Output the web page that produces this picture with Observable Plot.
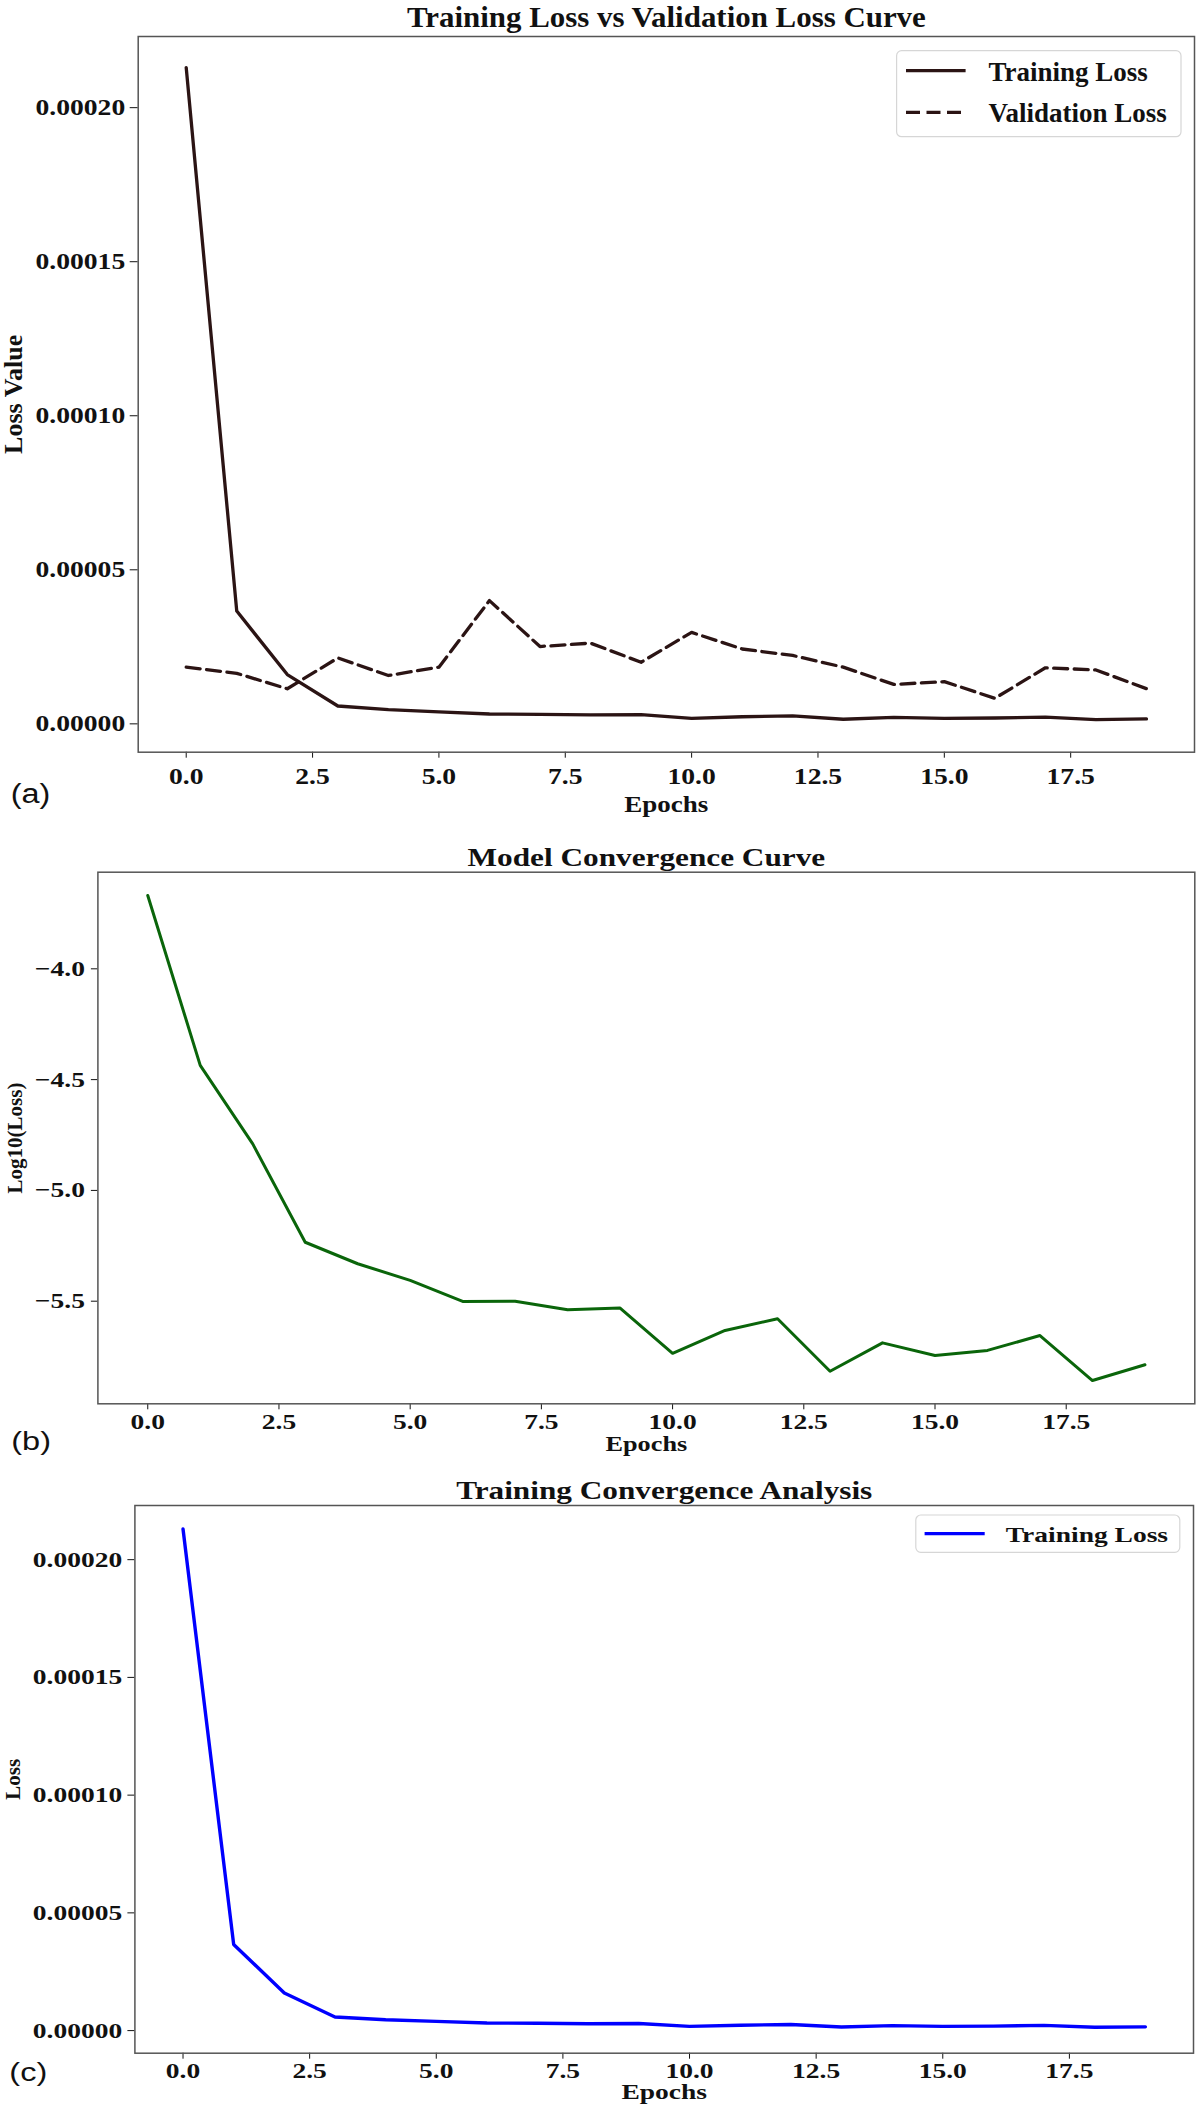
<!DOCTYPE html>
<html>
<head>
<meta charset="utf-8">
<script src="https://cdn.jsdelivr.net/npm/d3@7"></script>
<script src="https://cdn.jsdelivr.net/npm/@observablehq/plot@0.6"></script>
<style>
html, body { margin: 0; padding: 0; background: #fff; }
#root { width: 1200px; }
#root svg { display: block; }
</style>
</head>
<body>
<div id="root"></div>
<script>
// ---------------- data ----------------
const epochs = [0, 1, 2, 3, 4, 5, 6, 7, 8, 9, 10, 11, 12, 13, 14, 15, 16, 17, 18, 19];
const trainLoss = [0.000213, 0.0000366, 0.0000160, 0.0000058, 0.0000046, 0.0000039, 0.0000032, 0.0000031, 0.0000029, 0.0000030,
                   0.0000018, 0.0000023, 0.0000026, 0.0000015, 0.0000021, 0.0000018, 0.0000019, 0.0000022, 0.0000014, 0.0000016];
const valLoss = [0.0000184, 0.0000164, 0.0000114, 0.0000214, 0.0000157, 0.0000184, 0.0000400, 0.0000251, 0.0000262, 0.0000200,
                 0.0000297, 0.0000243, 0.0000222, 0.0000184, 0.0000128, 0.0000137, 0.0000083, 0.0000182, 0.0000175, 0.0000114];
const logLoss = [-3.669, -4.436, -4.79, -5.234, -5.331, -5.406, -5.501, -5.500, -5.539, -5.531,
                 -5.735, -5.632, -5.579, -5.816, -5.688, -5.745, -5.722, -5.655, -5.858, -5.787];

const xTicks = [0, 2.5, 5, 7.5, 10, 12.5, 15, 17.5];
const lossTicks = [0, 0.00005, 0.0001, 0.00015, 0.0002];
const logTicks = [-4.0, -4.5, -5.0, -5.5];

const titleA = "Training Loss vs Validation Loss Curve";
const titleB = "Model Convergence Curve";
const titleC = "Training Convergence Analysis";
const xLabel = "Epochs";
const yLabelA = "Loss Value";
const yLabelB = "Log10(Loss)";
const yLabelC = "Loss";
const legendA = ["Training Loss", "Validation Loss"];
const legendC = ["Training Loss"];
const tags = ["(a)", "(b)", "(c)"];

// ---------------- style ----------------
const serif = "'Liberation Serif', 'Times New Roman', Times, serif";
const sans = "'Liberation Sans', Arial, Helvetica, sans-serif";
const brown = "#2b1414";
const green = "#0a650a";
const blue = "#0000ff";
const dash = "14,6.5";

const rows = (vals) => epochs.map((e, i) => ({epoch: e, value: vals[i]}));

function stretchText(el, factor) {
  const len = el.getComputedTextLength();
  if (len > 0 && factor !== 1) {
    el.setAttribute("textLength", len * factor);
    el.setAttribute("lengthAdjust", "spacingAndGlyphs");
  }
}

function panel(cfg) {
  const svg = Plot.plot({
    width: 1200,
    height: cfg.height,
    marginTop: cfg.mt, marginBottom: cfg.mb, marginLeft: cfg.ml, marginRight: cfg.mr,
    style: {fontFamily: serif, fontWeight: "bold", fontSize: cfg.tickSize + "px", color: "#111", background: "#fff", overflow: "visible"},
    x: {domain: [-0.95, 19.95], ticks: xTicks, tickFormat: d3.format(".1f"), label: null, tickSize: 6, tickPadding: cfg.xPad},
    y: {domain: cfg.yDomain, ticks: cfg.yTicks, tickFormat: d3.format(cfg.yFmt), label: null, tickSize: cfg.ySize, tickPadding: cfg.yPad},
    marks: [
      ...cfg.lines,
      Plot.frame({stroke: "#555", strokeWidth: 1.5}),
      Plot.text([cfg.title], {frameAnchor: "top", dy: cfg.titleDy, fontSize: cfg.titleSize, textAnchor: "middle", lineAnchor: "middle", fill: "#111"}),
      Plot.text([xLabel], {frameAnchor: "bottom", dy: cfg.xLabelDy, fontSize: cfg.xLabelSize, textAnchor: "middle", lineAnchor: "middle", fill: "#111"}),
      Plot.text([cfg.yLabel], {frameAnchor: "left", dx: cfg.yLabelDx, rotate: -90, fontSize: cfg.yLabelSize, textAnchor: "middle", lineAnchor: "middle", fill: "#111"}),
      Plot.text([cfg.tag], {frameAnchor: "bottom-left", dx: cfg.tagDx, dy: cfg.tagDy, fontFamily: sans, fontWeight: "normal", fontSize: cfg.tagSize, textAnchor: "middle", lineAnchor: "middle", fill: "#111"})
    ]
  });
  document.getElementById("root").appendChild(svg);
  svg.querySelectorAll("text").forEach((t) => {
    const s = t.textContent;
    if (s === cfg.yLabel) return;
    if (s === cfg.title) stretchText(t, cfg.titleStretch);
    else stretchText(t, cfg.stretch);
  });
  return svg;
}

function addLegend(svg, cfg, items) {
  const fr = 1200 - cfg.mr, ft = cfg.mt;
  const L = cfg.legend;
  const x0 = fr - L.right - L.w, y0 = ft + L.top;
  const g = d3.select(svg).append("g").attr("text-anchor", "start");
  g.append("rect").attr("x", x0).attr("y", y0).attr("width", L.w).attr("height", L.h).attr("rx", 5)
    .attr("fill", "#fff").attr("fill-opacity", 0.85).attr("stroke", "#d6d6d6").attr("stroke-width", 1.2);
  items.forEach((it, i) => {
    const yy = y0 + L.first + i * L.step;
    g.append("line").attr("x1", x0 + L.lx1).attr("x2", x0 + L.lx2).attr("y1", yy).attr("y2", yy)
      .attr("stroke", it.stroke).attr("stroke-width", it.width).attr("stroke-dasharray", it.dash || null);
    const t = g.append("text").attr("x", x0 + L.tx).attr("y", yy).attr("dy", "0.37em")
      .attr("text-anchor", "start")
      .attr("font-family", serif).attr("font-weight", "bold").attr("font-size", L.font)
      .attr("fill", "#111").text(it.label);
    stretchText(t.node(), L.stretch);
  });
}

// ---------------- panel (a) ----------------
const cfgA = {
  height: 830, mt: 36, mb: 78.3, ml: 137.7, mr: 6,
  yDomain: [-0.0000092, 0.0002231], yTicks: lossTicks, yFmt: ".5f",
  tickSize: 23, xPad: 9.7, ySize: 8, yPad: 5, stretch: 1.2,
  title: titleA, titleSize: 30, titleDy: -19.1, titleStretch: 1.03,
  xLabelSize: 22.5, xLabelDy: 53,
  yLabel: yLabelA, yLabelSize: 26, yLabelDx: -124.7,
  tag: tags[0], tagSize: 27, tagDx: -107.7, tagDy: 42.3,
  lines: [
    Plot.line(rows(trainLoss), {x: "epoch", y: "value", stroke: brown, strokeWidth: 3.3}),
    Plot.line(rows(valLoss), {x: "epoch", y: "value", stroke: brown, strokeWidth: 3.3, strokeDasharray: dash})
  ],
  legend: {w: 284.4, h: 86, right: 13, top: 14.7, first: 20, step: 41.6, lx1: 9.4, lx2: 69, tx: 91.8, font: 27, stretch: 1}
};
const svgA = panel(cfgA);
addLegend(svgA, cfgA, [
  {label: legendA[0], stroke: brown, width: 3.3},
  {label: legendA[1], stroke: brown, width: 3.3, dash: dash}
]);

// ---------------- panel (b) ----------------
const cfgB = {
  height: 630, mt: 41.7, mb: 56.7, ml: 97.4, mr: 5.7,
  yDomain: [-5.963, -3.564], yTicks: logTicks, yFmt: ".1f",
  tickSize: 22, xPad: 3.6, ySize: 6.5, yPad: 6.5, stretch: 1.25,
  title: titleB, titleSize: 25, titleDy: -14.7, titleStretch: 1.25,
  xLabelSize: 21, xLabelDy: 40,
  yLabel: yLabelB, yLabelSize: 21, yLabelDx: -82.4,
  tag: tags[1], tagSize: 26, tagDx: -66.8, tagDy: 37.7,
  lines: [
    Plot.line(rows(logLoss), {x: "epoch", y: "value", stroke: green, strokeWidth: 3})
  ]
};
panel(cfgB);

// ---------------- panel (c) ----------------
const cfgC = {
  height: 654, mt: 45, mb: 61.3, ml: 134.4, mr: 7,
  yDomain: [-0.0000096, 0.000223], yTicks: lossTicks, yFmt: ".5f",
  tickSize: 22, xPad: 3.2, ySize: 7, yPad: 5.7, stretch: 1.25,
  title: titleC, titleSize: 25, titleDy: -15, titleStretch: 1.25,
  xLabelSize: 22, xLabelDy: 38.6,
  yLabel: yLabelC, yLabelSize: 21, yLabelDx: -121.9,
  tag: tags[2], tagSize: 26, tagDx: -106.6, tagDy: 19.8,
  lines: [
    Plot.line(rows(trainLoss), {x: "epoch", y: "value", stroke: blue, strokeWidth: 3.4})
  ],
  legend: {w: 264, h: 37.3, right: 13.2, top: 10, first: 18.65, step: 0, lx1: 8.8, lx2: 68.9, tx: 90, font: 22, stretch: 1.25}
};
const svgC = panel(cfgC);
addLegend(svgC, cfgC, [{label: legendC[0], stroke: blue, width: 3.4}]);
</script>
</body>
</html>
